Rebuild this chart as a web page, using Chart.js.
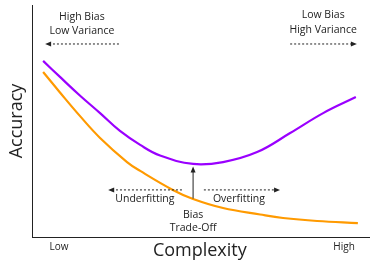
<!DOCTYPE html>
<html>
<head>
<meta charset="utf-8">
<script src="https://cdn.jsdelivr.net/npm/chart.js@4"></script>
<style>
  body { margin: 0; background: #fff; }
  canvas { display: block; }
</style>
</head>
<body>
<canvas id="tradeoff" width="385" height="268"></canvas>
<script>
// Data (complexity 0-100, accuracy 0-100)
const validX = [3.3, 8.3, 14.2, 20.2, 26.1, 32.1, 38.0, 47.8, 56.7, 66.8, 76.6, 86.4, 96.1];
const validY = [75.9, 69.0, 61.0, 53.4, 45.7, 39.7, 35.1, 31.5, 32.3, 36.6, 44.8, 53.4, 60.3];
const trainX = [3.3, 8.3, 14.2, 20.2, 28.2, 32.1, 41.8, 47.8, 56.7, 67.7, 74.5, 84.6, 96.7];
const trainY = [71.1, 62.3, 52.2, 42.7, 32.3, 28.5, 20.3, 16.4, 12.5, 9.7, 8.2, 6.9, 6.0];
const xLabels = ['Low', 'High'];
const xTitle = 'Complexity';
const yTitle = 'Accuracy';

const toPoints = (xs, ys) => xs.map((x, i) => ({ x: x, y: ys[i] }));

const textColor = '#222';
const font = '"Open Sans", sans-serif';

// Draw an arrow with dotted or solid shaft
function arrow(ctx, x1, y1, x2, y2, dotted) {
  ctx.save();
  ctx.strokeStyle = textColor;
  ctx.fillStyle = textColor;
  ctx.lineWidth = 1;
  ctx.setLineDash(dotted ? [2, 2] : []);
  const ang = Math.atan2(y2 - y1, x2 - x1);
  const hl = 6;
  ctx.beginPath();
  ctx.moveTo(x1, y1);
  ctx.lineTo(x2 - Math.cos(ang) * hl * 0.8, y2 - Math.sin(ang) * hl * 0.8);
  ctx.stroke();
  ctx.setLineDash([]);
  ctx.beginPath();
  ctx.moveTo(x2, y2);
  ctx.lineTo(x2 - hl * Math.cos(ang) + 2.5 * Math.sin(ang), y2 - hl * Math.sin(ang) - 2.5 * Math.cos(ang));
  ctx.lineTo(x2 - hl * Math.cos(ang) - 2.5 * Math.sin(ang), y2 - hl * Math.sin(ang) + 2.5 * Math.cos(ang));
  ctx.closePath();
  ctx.fill();
  ctx.restore();
}

const annotations = {
  id: 'annotations',
  afterDraw(chart) {
    const ctx = chart.ctx;
    const xs = chart.scales.x;
    const ys = chart.scales.y;
    const px = (v) => xs.getPixelForValue(v);
    const py = (v) => ys.getPixelForValue(v);
    const area = chart.chartArea;

    ctx.save();
    ctx.fillStyle = textColor;
    ctx.textAlign = 'center';
    ctx.textBaseline = 'middle';
    ctx.font = '10.5px ' + font;

    ctx.fillText('High Bias', px(14.8), py(94.9));
    ctx.fillText('Low Variance', px(14.8), py(88.6));
    ctx.fillText('Low Bias', px(86.4), py(95.5));
    ctx.fillText('High Variance', px(86.4), py(89.4));
    ctx.fillText('Underfitting', px(33.5), py(16.2));
    ctx.fillText('Overfitting', px(61.4), py(16.2));
    ctx.fillText('Bias', px(47.8), py(9.5));
    ctx.fillText('Trade-Off', px(47.8), py(3.9));

    ctx.font = '10px ' + font;
    ctx.fillText(xLabels[0], px(8), area.bottom + 10);
    ctx.fillText(xLabels[1], px(92.6), area.bottom + 10);

    ctx.font = '18px ' + font;
    ctx.fillText(xTitle, px(49.8), area.bottom + 14);
    ctx.translate(17, (area.top + area.bottom) / 2);
    ctx.rotate(-Math.PI / 2);
    ctx.fillText(yTitle, 0, 0);
    ctx.restore();

    arrow(ctx, px(25.8), py(83.2), px(3.9), py(83.2), true);
    arrow(ctx, px(76.6), py(83.2), px(96.4), py(83.2), true);
    arrow(ctx, px(44.5), py(20.3), px(22.6), py(20.3), true);
    arrow(ctx, px(51.0), py(20.3), px(73.6), py(20.3), true);
    arrow(ctx, px(47.8), py(16.6), px(47.8), py(30.4), false);
  }
};

const hiddenAxis = {
  min: 0,
  max: 100,
  grid: { display: false, drawTicks: false, tickLength: 0 },
  ticks: { display: false, padding: 0 },
  border: { display: true, color: '#222', width: 1 },
};

new Chart(document.getElementById('tradeoff').getContext('2d'), {
  type: 'line',
  data: {
    datasets: [
      {
        label: 'Validation',
        data: toPoints(validX, validY),
        borderColor: '#9a00ff',
        borderWidth: 2.2,
        pointRadius: 0,
        tension: 0.4,
      },
      {
        label: 'Training',
        data: toPoints(trainX, trainY),
        borderColor: '#ff9a00',
        borderWidth: 2.2,
        pointRadius: 0,
        tension: 0.4,
      },
    ],
  },
  options: {
    responsive: false,
    animation: false,
    layout: {
      padding: { left: 32, top: 5, right: 16, bottom: 31 },
    },
    plugins: {
      legend: { display: false },
      tooltip: { enabled: false },
    },
    scales: {
      x: Object.assign({ type: 'linear' }, hiddenAxis),
      y: Object.assign({}, hiddenAxis),
    },
  },
  plugins: [annotations],
});
</script>
</body>
</html>
